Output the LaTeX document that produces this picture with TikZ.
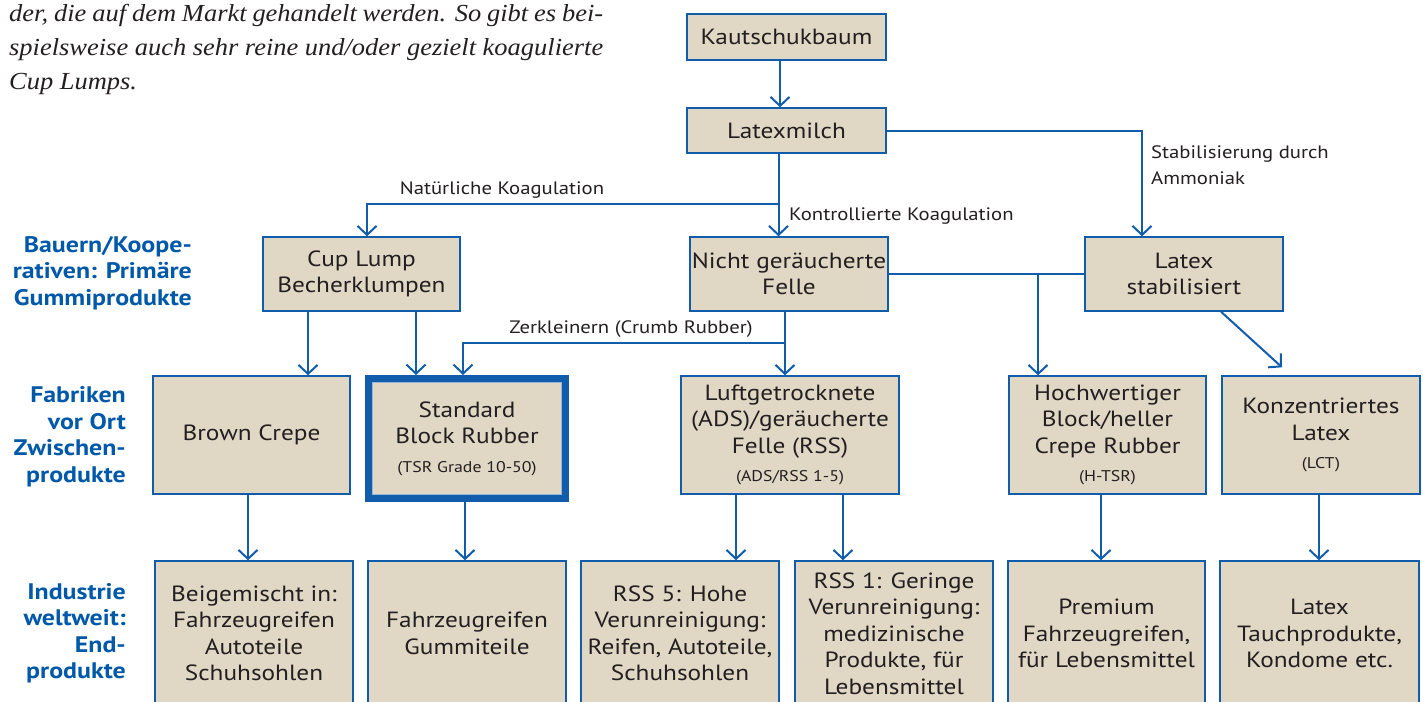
\documentclass[tikz,border=0pt]{standalone}
\usepackage{fontspec}
\setmainfont{PT Sans}[FakeStretch=1.15]
\newfontfamily\serifit{Liberation Serif}[FakeStretch=1.08]
\usetikzlibrary{arrows.meta,calc}
\definecolor{lblue}{RGB}{18,92,172}
\definecolor{tblue}{RGB}{0,88,168}
\definecolor{beige}{RGB}{224,216,197}
\definecolor{ink}{RGB}{35,31,32}
\begin{document}
\begin{tikzpicture}[x=1pt,y=-1pt,
  box/.style={draw=lblue, line width=1.4pt, fill=beige, align=center, text=ink,
    font=\fontsize{22}{26.5}\selectfont, inner sep=0pt},
  con/.style={draw=lblue, line width=2pt},
  arr/.style={con, -{Straight Barb[length=9pt,width=19pt]}},
  lab/.style={text=ink, font=\fontsize{18}{26}\selectfont, inner sep=0pt, align=left},
  side/.style={text=tblue, font=\bfseries\fontsize{22.5}{26.5}\selectfont, align=right, inner sep=0pt, anchor=east},
  para/.style={text=ink, font=\serifit\itshape\fontsize{24.5}{33}\selectfont, inner sep=0pt, anchor=base west}]
\useasboundingbox (0,0) rectangle (1423,701);
\clip (0,0) rectangle (1423,701);
\newcommand{\sm}[1]{{\fontsize{15.5}{19}\selectfont #1}}

% paragraph text
\node[para] (p1) at (9,22) {\makebox[594pt][s]{der, die auf dem Markt gehandelt werden. So gibt es bei-}};
\node[para] (p2) at (9,55.5) {\makebox[594pt][s]{spielsweise auch sehr reine und/oder gezielt koagulierte}};
\node[para] (p3) at (9,89) {Cup Lumps.};

% side labels
\node[side] (s1) at (192,273) {Bauern/Koope-\\rativen: Primäre\\Gummiprodukte};
\node[side] (s2) at (126,436.5) {Fabriken\\vor Ort\\Zwischen-\\produkte};
\node[side] (s3) at (126,633) {Industrie\\weltweit:\\End-\\produkte};

% boxes
\node[box, minimum width=199pt, minimum height=46pt] (kb) at (786.5,37) {Kautschukbaum};
\node[box, minimum width=199pt, minimum height=45pt] (lm) at (786.5,130.5) {Latexmilch};
\node[box, minimum width=197pt, minimum height=74pt] (cl) at (361.5,274) {Cup Lump\\Becherklumpen};
\node[box, minimum width=198pt, minimum height=74pt] (ng) at (789,274) {Nicht geräucherte\\Felle};
\node[box, minimum width=198pt, minimum height=74pt] (ls) at (1184,274) {Latex\\stabilisiert};

\node[box, minimum width=197pt, minimum height=118pt] (bc) at (251.5,435) {Brown Crepe};
\node[box, line width=7pt, minimum width=197pt, minimum height=120pt] (sb) at (467,438.5) {Standard\\Block Rubber\\[2pt]\sm{(TSR Grade 10-50)}};
\draw[lblue!45, line width=0.8pt] (372.5,382.5) rectangle (561.5,494.5);
\node[box, minimum width=218pt, minimum height=118pt] (lf) at (790,435) {Luftgetrocknete\\(ADS)/geräucherte\\Felle (RSS)\\[2pt]\sm{(ADS/RSS 1-5)}};
\node[box, minimum width=197pt, minimum height=118pt] (hw) at (1107.5,435) {Hochwertiger\\Block/heller\\Crepe Rubber\\[2pt]\sm{(H-TSR)}};
\node[box, minimum width=198pt, minimum height=118pt] (kz) at (1321,435) {Konzentriertes\\Latex\\[2pt]\sm{(LCT)}};

\node[box, minimum width=198pt, minimum height=145pt] (b1) at (254,633.5) {Beigemischt in:\\Fahrzeugreifen\\Autoteile\\Schuhsohlen};
\node[box, minimum width=198pt, minimum height=145pt] (b2) at (467,633.5) {Fahrzeugreifen\\Gummiteile};
\node[box, minimum width=198pt, minimum height=145pt] (b3) at (680,633.5) {RSS 5: Hohe\\Verunreinigung:\\Reifen, Autoteile,\\Schuhsohlen};
\node[box, minimum width=198pt, minimum height=145pt] (b4) at (894,633.5) {RSS 1: Geringe\\Verunreinigung:\\medizinische\\Produkte, für\\Lebensmittel};
\node[box, minimum width=197pt, minimum height=145pt] (b5) at (1106.5,633.5) {Premium\\Fahrzeugreifen,\\für Lebensmittel};
\node[box, minimum width=199pt, minimum height=145pt] (b6) at (1319.5,633.5) {Latex\\Tauchprodukte,\\Kondome etc.};

% column coordinates
\coordinate (xa) at (778.5,0);
\coordinate (xc) at (785,0);
\coordinate (x308) at (308,0);
\coordinate (x416) at (416,0);
\coordinate (x248) at (248,0);
\coordinate (x465) at (465,0);
\coordinate (x736) at (736,0);
\coordinate (x843) at (843,0);
\coordinate (x1101) at (1101,0);
\coordinate (x1319) at (1319,0);
\coordinate (j1) at (778.5,204);
\coordinate (j2) at (1038,274);
\coordinate (j3) at (785,343);

% connectors
\draw[arr] ([xshift=-6.5pt]kb.south) -- ([xshift=-6.5pt]lm.north);
\draw[arr] (lm.south -| xa) -- (ng.north -| xa);
\draw[arr] (j1) -| ([xshift=5.5pt]cl.north);
\draw[arr] (lm.east) -| ([xshift=-42pt]ls.north);
\draw[con] (ng.east) -- (ls.west);
\draw[arr] (j2) -- (hw.north -| j2);
\draw[arr] (ng.south -| xc) -- (lf.north -| xc);
\draw[arr] (j3) -| ([xshift=-4pt]sb.north);
\draw[arr] (cl.south -| x308) -- (bc.north -| x308);
\draw[arr] (cl.south -| x416) -- (sb.north -| x416);
\draw[arr] ([xshift=37pt]ls.south) -- ([xshift=-39pt,yshift=8pt]kz.north);
\draw[arr] (bc.south -| x248) -- (b1.north -| x248);
\draw[arr] (sb.south -| x465) -- (b2.north -| x465);
\draw[arr] (lf.south -| x736) -- (b3.north -| x736);
\draw[arr] (lf.south -| x843) -- (b4.north -| x843);
\draw[arr] (hw.south -| x1101) -- (b5.north -| x1101);
\draw[arr] (kz.south -| x1319) -- (b6.north -| x1319);

% connector labels
\node[lab] (l1) at (502,190) {Natürliche Koagulation};
\node[lab, anchor=west] (l2) at (789,216) {Kontrollierte Koagulation};
\node[lab, anchor=west] (l3) at (1151,165) {Stabilisierung durch\\Ammoniak};
\node[lab] (l4) at (631,329) {Zerkleinern (Crumb Rubber)};
\end{tikzpicture}
\end{document}
